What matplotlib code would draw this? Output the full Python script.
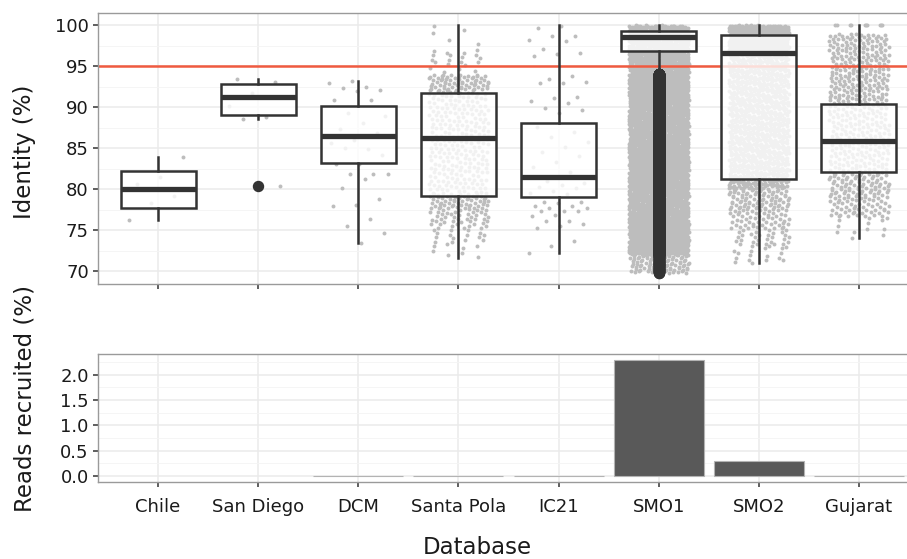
import numpy as np
import matplotlib
matplotlib.use("Agg")
import matplotlib.pyplot as plt
from matplotlib.ticker import MultipleLocator

# categorias
categorias = ["Chile", "San Diego", "DCM", "Santa Pola", "IC21", "SMO1", "SMO2", "Gujarat"]

# estatisticas dos boxplots (identidade %)
q1 = [77.7, 89.0, 83.2, 79.2, 79.1, 96.85, 81.3, 82.1]
mediana = [80.0, 91.3, 86.5, 86.3, 81.5, 98.55, 96.6, 85.9]
q3 = [82.2, 92.8, 90.2, 91.7, 88.1, 99.25, 98.85, 90.4]
bigode_inf = [76.2, 88.6, 73.4, 71.6, 72.2, 94.1, 71.0, 74.0]
bigode_sup = [83.9, 93.4, 93.2, 100.0, 100.0, 100.0, 100.0, 100.0]

# pontos lidos um a um (bancos com poucos reads)
pontos_chile = [83.9, 81.5, 80.6, 79.2, 78.3, 76.2]
pontos_san_diego = [93.4, 93.1, 91.8, 90.2, 88.8, 88.6, 80.4]
pontos_dcm = [93.2, 92.9, 92.45, 92.3, 92.05, 92.0, 90.9, 90.9, 89.3, 88.9, 88.1,
              87.4, 86.8, 86.0, 85.6, 84.9, 85.0, 84.2, 83.1, 83.1, 81.9, 81.8,
              81.8, 81.3, 80.2, 78.8, 78.1, 78.0, 76.4, 75.5, 74.7, 73.4]
pontos_ic21 = [99.9, 99.7, 98.7, 98.7, 98.2, 98.1, 97.1, 96.6, 96.5, 96.3,
               93.8, 93.4, 93.1, 93.0, 93.0, 91.2, 91.1, 90.8, 90.5, 89.9, 89.7,
               89.3, 87.6, 87.0, 86.4, 85.8, 85.1, 84.6, 84.0, 83.3, 82.7, 82.1,
               81.0, 80.8, 80.5, 80.3, 80.1, 79.8, 79.6, 79.4,
               78.4, 78.4, 78.3, 78.0, 78.0, 77.7, 77.7, 77.4, 77.3, 77.3, 76.8,
               76.7, 76.1, 76.1, 75.8, 75.5, 75.3, 73.7, 73.1, 72.2]

# bancos densos: faixas (inicio, fim, numero de pontos)
faixas_santa_pola = [(71.6, 73.5, 8), (73.5, 75.5, 18), (75.5, 77.5, 40), (77.5, 79.5, 60),
                     (79.5, 92.0, 250), (92.0, 94.0, 70), (94.0, 95.0, 4), (95.0, 97.0, 16),
                     (97.0, 100.0, 5)]
faixas_smo1 = [(69.8, 72.0, 90), (72.0, 100.0, 3200)]
faixas_smo2 = [(71.0, 73.0, 15), (73.0, 75.0, 30), (75.0, 77.5, 55), (77.5, 80.0, 85),
               (80.0, 97.0, 900), (97.0, 100.0, 450)]
faixas_gujarat = [(100.0, 100.0, 10), (74.0, 76.5, 10), (76.5, 79.0, 55), (79.0, 82.0, 85),
                  (82.0, 90.5, 200), (90.5, 99.0, 240)]

# reads recrutados (%)
reads_recrutados = [0.0, 0.0, 0.006, 0.006, 0.006, 2.29, 0.29, 0.006]


# espalha os pontos de cada faixa (sequencia R2, sem sorteio)
def pontos_das_faixas(faixas, deslocamento):
    ys, us = [], []
    for j, (lo, hi, n) in enumerate(faixas):
        k = np.arange(n) + 7 * j + deslocamento
        ys.append(lo + (hi - lo) * ((0.5 + k * 0.5698403) % 1.0))
        us.append((0.5 + k * 0.7548777) % 1.0)
    return np.concatenate(ys), np.concatenate(us)


def pontos_da_lista(valores, deslocamento):
    k = np.arange(len(valores)) + deslocamento
    return np.array(valores), (0.3 + k * 0.618034) % 1.0


nuvens = [
    pontos_da_lista(pontos_chile, 1), pontos_da_lista(pontos_san_diego, 3),
    pontos_da_lista(pontos_dcm, 5), pontos_das_faixas(faixas_santa_pola, 11),
    pontos_da_lista(pontos_ic21, 2), pontos_das_faixas(faixas_smo1, 13),
    pontos_das_faixas(faixas_smo2, 17), pontos_das_faixas(faixas_gujarat, 19),
]

posicoes = np.arange(1, len(categorias) + 1)

fig = plt.figure(figsize=(9.07, 5.59), dpi=100)
ax1 = fig.add_axes([98 / 907, 1 - 283.5 / 559, 821 / 907, 270.5 / 559])
ax2 = fig.add_axes([98 / 907, 1 - 481.7 / 559, 821 / 907, 127.7 / 559])

cinza_txt = "#1a1a1a"
for ax in (ax1, ax2):
    ax.set_facecolor("white")
    ax.grid(which="major", color="#ebebeb", linewidth=1.1, zorder=0)
    ax.grid(which="minor", axis="y", color="#f4f4f4", linewidth=0.6, zorder=0)
    ax.set_axisbelow(True)
    for s in ax.spines.values():
        s.set_color("#9a9a9a")
        s.set_linewidth(1.0)
    ax.tick_params(which="major", length=3.6, width=1.1, color="#333333",
                   labelsize=13, labelcolor=cinza_txt, pad=3)
    ax.tick_params(which="minor", length=0)
    ax.set_xlim(0.4, 8.6)
    ax.set_xticks(posicoes)

# painel de cima: pontos + linha + boxplots
for i, (vals, u) in enumerate(nuvens):
    xs = posicoes[i] + u * 0.6 - 0.3
    ax1.scatter(xs, vals, s=8, color="#bdbdbd", linewidths=0, zorder=1)

ax1.axhline(95, color="#f05a40", linewidth=1.8, zorder=2)

estatisticas = []
for i in range(len(categorias)):
    vals = nuvens[i][0]
    fora = vals[(vals < bigode_inf[i]) | (vals > bigode_sup[i])]
    estatisticas.append({"med": mediana[i], "q1": q1[i], "q3": q3[i],
                         "whislo": bigode_inf[i], "whishi": bigode_sup[i],
                         "fliers": fora})

ax1.bxp(estatisticas, positions=posicoes, widths=0.75, patch_artist=True,
        showcaps=False, manage_ticks=False,
        boxprops=dict(facecolor=(1, 1, 1, 0.8), edgecolor="#333333", linewidth=1.8),
        medianprops=dict(color="#333333", linewidth=3.8, solid_capstyle="butt"),
        whiskerprops=dict(color="#333333", linewidth=1.8),
        flierprops=dict(marker="o", markersize=7.2, markerfacecolor="#333333",
                        markeredgecolor="#333333", linestyle="none"),
        zorder=3)

ax1.set_ylim(68.5, 101.5)
ax1.set_yticks([70, 75, 80, 85, 90, 95, 100])
ax1.yaxis.set_minor_locator(MultipleLocator(2.5))
ax1.set_xticklabels([])

# painel de baixo: barras (sem contorno onde o valor e zero)
bordas = ["#b3b3b3" if v > 0 else "none" for v in reads_recrutados]
ax2.bar(posicoes, reads_recrutados, width=0.9, color="#595959",
        edgecolor=bordas, linewidth=0.8, zorder=2)
ax2.set_ylim(-0.115, 2.405)
ax2.set_yticks([0.0, 0.5, 1.0, 1.5, 2.0])
ax2.set_yticklabels(["0.0", "0.5", "1.0", "1.5", "2.0"])
ax2.yaxis.set_minor_locator(MultipleLocator(0.25))
ax2.set_xticklabels(categorias)
ax2.tick_params(axis="x", pad=8)

fig.text(24 / 907, 1 - 152 / 559, "Identity (%)", rotation=90, ha="center", va="center",
         fontsize=16.5, color=cinza_txt)
fig.text(25 / 907, 1 - 398 / 559, "Reads recruited (%)", rotation=90, ha="center",
         va="center", fontsize=16.5, color=cinza_txt)
fig.text(477 / 907, 1 - 547 / 559, "Database", ha="center", va="center",
         fontsize=16.5, color=cinza_txt)

fig.savefig("out.png", dpi=100)
